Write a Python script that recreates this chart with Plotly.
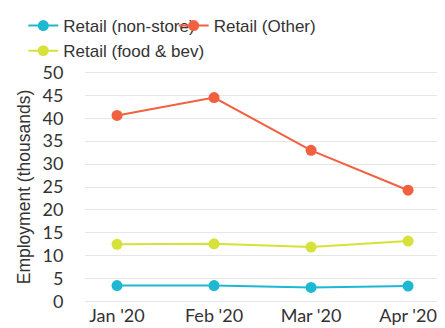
import plotly.graph_objects as go

months = ["Jan '20", "Feb '20", "Mar '20", "Apr '20"]
non_store = [3.5, 3.5, 3.1, 3.4]
food_bev = [12.5, 12.6, 11.9, 13.2]
other = [40.6, 44.5, 33.0, 24.3]

series = [
    ("Retail (non-store)", non_store, "#1fb8d2"),
    ("Retail (Other)", other, "#f2603f"),
    ("Retail (food & bev)", food_bev, "#d6e23a"),
]

fig = go.Figure()
for name, vals, color in series:
    fig.add_trace(go.Scatter(
        x=months, y=vals, name=name, mode="lines+markers",
        line=dict(color=color, width=2),
        marker=dict(color=color, size=11),
    ))

# page body adds an 8px offset, so the figure is sized to fit the window
fig.update_layout(
    width=437, height=320,
    margin=dict(l=77, r=2, t=63, b=25, autoexpand=False),
    plot_bgcolor="white", paper_bgcolor="white",
    font=dict(family="Liberation Sans, Arial", size=16, color="#333333"),
    legend=dict(
        orientation="h", xref="container", yref="container",
        x=0.035, y=1.0, xanchor="left", yanchor="top",
        entrywidth=0.42, entrywidthmode="fraction",
        font=dict(family="Liberation Sans, Arial", size=17, color="#333333"),
        itemwidth=30, bgcolor="rgba(0,0,0,0)", tracegroupgap=0,
    ),
)
fig.update_xaxes(
    range=[-0.33, 3.36], showgrid=False, showline=False,
    tickfont=dict(family="Lato, Roboto", size=18, color="#333333"),
)
fig.update_yaxes(
    range=[-0.3, 50.3], dtick=5, tick0=0,
    gridcolor="#e6e6e6", gridwidth=1, zeroline=False,
    ticks="outside", ticklen=17, tickcolor="white",
    tickfont=dict(family="Lato, Roboto", size=18, color="#333333"),
    title=dict(text="Employment (thousands)", standoff=7,
               font=dict(family="Liberation Sans, Arial", size=17.5, color="#333333")),
)

fig.write_html("out.html")
